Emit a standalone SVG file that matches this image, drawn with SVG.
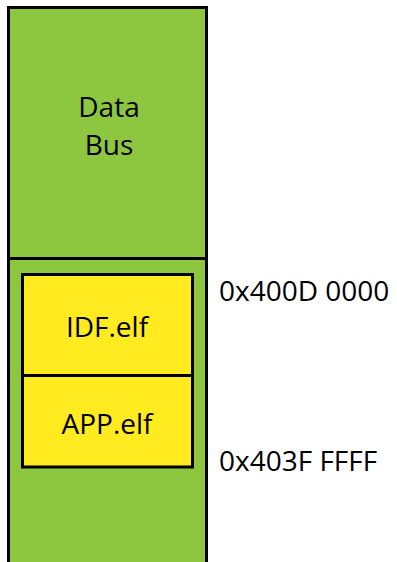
<svg xmlns="http://www.w3.org/2000/svg" width="397" height="562" viewBox="0 0 397 562">
<style>
.g{fill:#8dc63f;stroke:#000;stroke-width:3}
.y{fill:#ffeb1f;stroke:#000;stroke-width:3}
.t{font-family:"Open Sans","Noto Sans",sans-serif;font-size:28px;fill:#000}
.m{text-anchor:middle}
</style>
<rect width="397" height="562" fill="#fff"/>
<g id="data-bus">
<rect class="g" x="8.5" y="7.5" width="198" height="251"/>
<text class="t m" x="109" y="117">Data</text>
<text class="t m" x="109" y="155">Bus</text>
</g>
<g id="region">
<rect class="g" x="8.5" y="258.5" width="198" height="310"/>
</g>
<g id="idf">
<rect class="y" x="22.5" y="274.5" width="170" height="101"/>
<text class="t m" x="107" y="337">IDF.elf</text>
</g>
<g id="app">
<rect class="y" x="22.5" y="375.5" width="170" height="91.5"/>
<text class="t m" x="107" y="434">APP.elf</text>
</g>
<g id="labels">
<text class="t" x="219" y="301">0x400D 0000</text>
<text class="t" x="219" y="471">0x403F FFFF</text>
</g>
<g id="connectors"/>
</svg>
